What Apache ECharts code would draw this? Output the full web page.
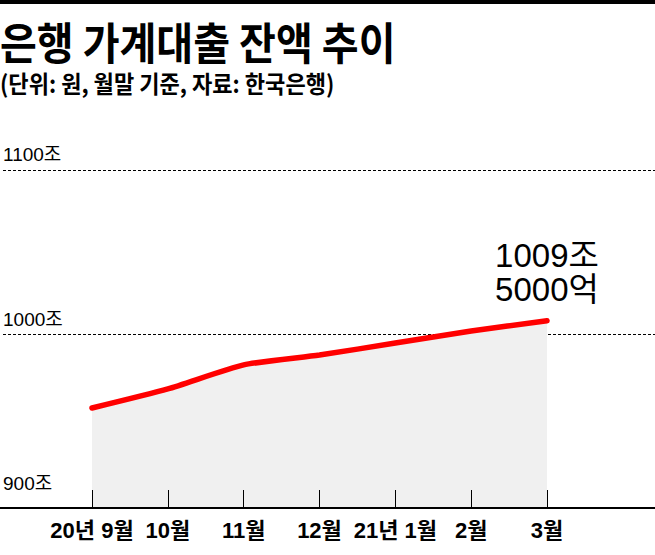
<!DOCTYPE html>
<html>
<head>
<meta charset="utf-8">
<script src="https://cdn.jsdelivr.net/npm/echarts@6/dist/echarts.min.js"></script>
<style>
html,body{margin:0;padding:0;background:#fff;}
#chart{width:655px;height:555px;}
</style>
</head>
<body>
<div id="chart"></div>
<script>
const titleText = '은행 가계대출 잔액 추이';
const subtitleText = '(단위: 원, 월말 기준, 자료: 한국은행)';
const categories = ['20년 9월', '10월', '11월', '12월', '21년 1월', '2월', '3월'];
const loans = [955.3, 966.9, 981.5, 987.5, 994.8, 1002.1, 1008.4];
const yTicks = [900, 1000, 1100];
const lastLabel = ['1009조', '5000억'];

const catIdx = categories.map((c, i) => i);
const latin = "'Liberation Sans','Noto Sans CJK KR',sans-serif";
const cjk = "'Noto Sans CJK KR',sans-serif";

const chart = echarts.init(document.getElementById('chart'), null, {renderer: 'svg'});
chart.setOption({
  backgroundColor: '#fff',
  animation: false,
  graphic: [
    {type: 'rect', shape: {x: 0, y: 0, width: 655, height: 4}, style: {fill: '#000'}},
    {type: 'text', x: 0, y: 41, scaleX: 0.91,
     style: {text: titleText, fontSize: 44, fontWeight: 'bold', fontFamily: cjk, fill: '#000', align: 'left', verticalAlign: 'middle'}},
    {type: 'text', x: 0, y: 83, scaleX: 0.92,
     style: {text: subtitleText, fontSize: 24, fontWeight: 'bold', fontFamily: cjk, fill: '#000', align: 'left', verticalAlign: 'middle'}}
  ],
  grid: [
    {left: 0, right: 0, top: 170, bottom: 56},
    {left: 0, right: 0, top: 170, bottom: 47}
  ],
  xAxis: [
    {type: 'value', gridIndex: 0, show: false, min: 0, max: 1},
    {type: 'value', gridIndex: 1, min: -1.2132, max: 7.4243, z: 10,
     axisLine: {show: true, lineStyle: {color: '#000', width: 2}},
     axisTick: {show: true, inside: true, length: 18, customValues: catIdx, lineStyle: {color: '#000', width: 1}},
     axisLabel: {customValues: catIdx, margin: 11, color: '#000', fontSize: 22, fontWeight: 'bold', fontFamily: latin,
       formatter: v => categories[Math.round(v)]},
     splitLine: {show: false}}
  ],
  yAxis: [
    {type: 'value', gridIndex: 0, min: yTicks[0], max: yTicks[yTicks.length - 1], interval: 100,
     axisLine: {show: false}, axisTick: {show: false},
     axisLabel: {inside: true, margin: 0, verticalAlign: 'bottom', padding: [0, 0, 6, 0],
       color: '#000', fontSize: 19, fontFamily: latin, formatter: v => v + '조'},
     splitLine: {show: true, showMinLine: false, lineStyle: {color: '#000', width: 1, type: [3, 2]}}},
    {type: 'value', gridIndex: 1, min: 894.5, max: 1100, show: false, splitLine: {show: false}}
  ],
  series: [{
    type: 'line',
    xAxisIndex: 1, yAxisIndex: 1,
    data: loans.map((v, i) => [i, v]),
    smooth: 0.2,
    symbol: 'none',
    lineStyle: {color: '#ff0000', width: 5.5, cap: 'round'},
    areaStyle: {color: '#f0f0f0', opacity: 1, origin: 'start'},
    markPoint: {
      symbol: 'circle', symbolSize: 1,
      itemStyle: {color: 'rgba(0,0,0,0)'},
      data: [{coord: [loans.length - 1, loans[loans.length - 1]]}],
      label: {show: true, position: 'top', distance: 14, align: 'center',
        formatter: lastLabel.join('\n'), color: '#000', fontSize: 33, lineHeight: 34, fontFamily: latin}
    }
  }]
});
</script>
</body>
</html>
